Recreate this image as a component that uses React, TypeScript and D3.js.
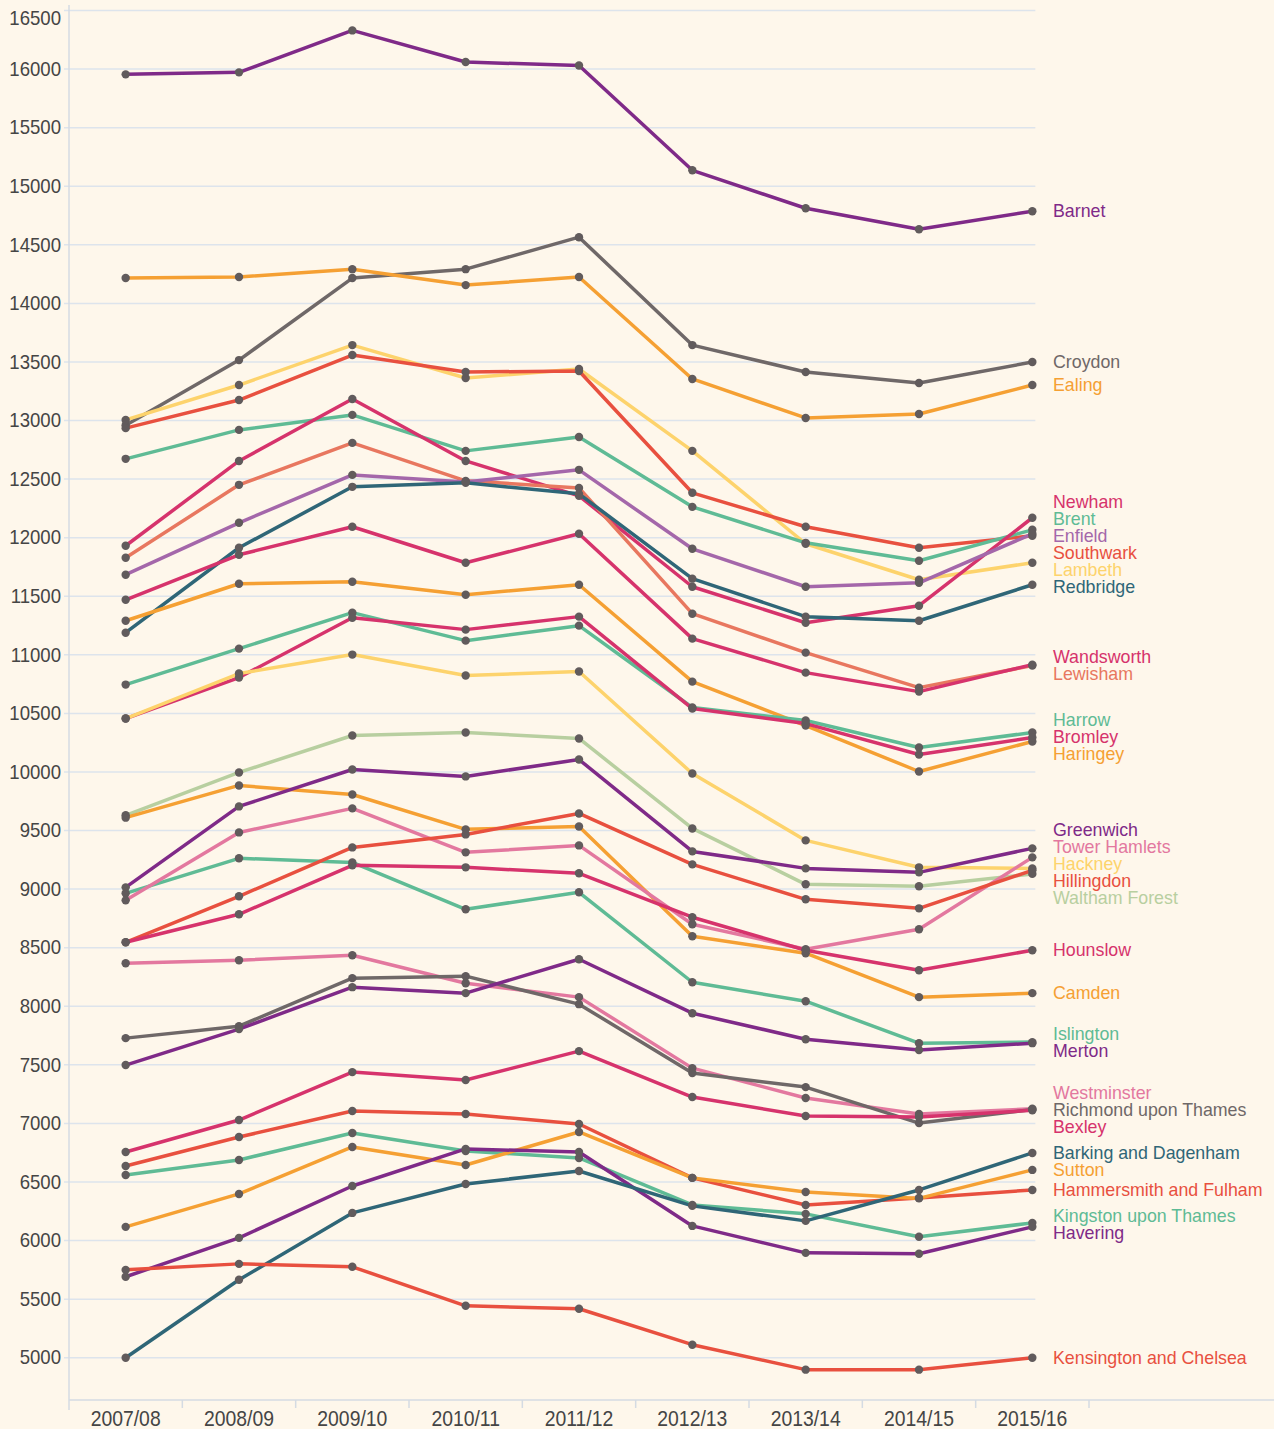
import React from "react";
import * as d3 from "d3";

const years = ["2007/08", "2008/09", "2009/10", "2010/11", "2011/12", "2012/13", "2013/14", "2014/15", "2015/16"];

const yTickValues = [5000, 5500, 6000, 6500, 7000, 7500, 8000, 8500, 9000, 9500, 10000, 10500, 11000, 11500, 12000, 12500, 13000, 13500, 14000, 14500, 15000, 15500, 16000, 16500];

const PURPLE = "#7f2a88";
const GREY = "#6f6868";
const ORANGE = "#f5a033";
const YELLOW = "#fdd36c";
const RED = "#e8503f";
const GREEN = "#5fbb95";
const CRIMSON = "#d6336c";
const SALMON = "#e8775f";
const LILAC = "#a467aa";
const TEAL = "#2f6677";
const SAGE = "#b8cfa0";
const PINK = "#e3789f";

const barnet = [15955, 15972, 16330, 16060, 16030, 15136, 14812, 14633, 14787];
const croydon = [12960, 13516, 14216, 14292, 14565, 13644, 13414, 13320, 13499];
const ealing = [14216, 14225, 14292, 14156, 14225, 13355, 13022, 13056, 13303];
const lambeth = [13005, 13303, 13644, 13363, 13440, 12741, 11948, 11641, 11786];
const southwark = [12935, 13175, 13559, 13414, 13423, 12383, 12093, 11914, 12016];
const brent = [12673, 12920, 13048, 12741, 12860, 12263, 11956, 11803, 12067];
const newham = [11931, 12655, 13184, 12655, 12357, 11581, 11274, 11419, 12170];
const lewisham = [11829, 12451, 12809, 12485, 12425, 11351, 11019, 10720, 10908];
const enfield = [11684, 12127, 12536, 12476, 12579, 11905, 11581, 11615, 12033];
const redbridge = [11189, 11914, 12434, 12468, 12374, 11650, 11326, 11291, 11598];
const wandsworth = [11470, 11854, 12093, 11786, 12033, 11138, 10848, 10686, 10916];
const haringey = [11291, 11607, 11624, 11513, 11598, 10771, 10396, 10004, 10260];
const harrow = [10746, 11053, 11360, 11121, 11249, 10550, 10439, 10209, 10337];
const bromley = [10456, 10806, 11317, 11215, 11326, 10541, 10413, 10149, 10294];
const hackney = [10456, 10840, 11002, 10823, 10857, 9987, 9416, 9186, 9177];
const walthamForest = [9630, 9996, 10311, 10337, 10286, 9518, 9041, 9024, 9130];
const camden = [9610, 9885, 9808, 9510, 9535, 8598, 8453, 8078, 8112];
const greenwich = [9015, 9706, 10021, 9962, 10106, 9322, 9177, 9143, 9348];
const islington = [8964, 9263, 9228, 8828, 8973, 8205, 8043, 7685, 7694];
const towerHamlets = [8904, 9484, 9689, 9314, 9373, 8700, 8487, 8657, 9271];
const hillingdon = [8546, 8939, 9356, 9467, 9646, 9211, 8913, 8836, 9160];
const hounslow = [8546, 8785, 9203, 9186, 9135, 8760, 8478, 8308, 8478];
const westminster = [8367, 8393, 8436, 8197, 8078, 7472, 7217, 7080, 7125];
const richmond = [7728, 7830, 8240, 8257, 8018, 7430, 7310, 7003, 7118];
const merton = [7498, 7805, 8163, 8112, 8401, 7941, 7719, 7626, 7685];
const bexley = [6756, 7029, 7438, 7370, 7617, 7225, 7063, 7055, 7112];
const hammersmith = [6637, 6884, 7106, 7080, 6995, 6535, 6304, 6364, 6432];
const kingston = [6560, 6688, 6918, 6765, 6705, 6304, 6228, 6032, 6151];
const sutton = [6117, 6398, 6799, 6645, 6927, 6535, 6415, 6360, 6603];
const havering = [5691, 6023, 6466, 6782, 6756, 6125, 5895, 5887, 6117];
const barking = [5000, 5665, 6236, 6483, 6594, 6296, 6168, 6432, 6748];
const kensington = [5750, 5801, 5776, 5443, 5418, 5111, 4898, 4898, 5000];

const names = [
  "Barnet", "Croydon", "Ealing", "Lambeth", "Southwark", "Brent", "Newham", "Lewisham",
  "Enfield", "Redbridge", "Wandsworth", "Haringey", "Harrow", "Bromley", "Hackney",
  "Waltham Forest", "Camden", "Greenwich", "Islington", "Tower Hamlets", "Hillingdon",
  "Hounslow", "Westminster", "Richmond upon Thames", "Merton", "Bexley",
  "Hammersmith and Fulham", "Kingston upon Thames", "Sutton", "Havering",
  "Barking and Dagenham", "Kensington and Chelsea",
];
const colors = [
  PURPLE, GREY, ORANGE, YELLOW, RED, GREEN, CRIMSON, SALMON,
  LILAC, TEAL, CRIMSON, ORANGE, GREEN, CRIMSON, YELLOW,
  SAGE, ORANGE, PURPLE, GREEN, PINK, RED,
  CRIMSON, PINK, GREY, PURPLE, CRIMSON,
  RED, GREEN, ORANGE, PURPLE,
  TEAL, RED,
];
const seriesValues = [
  barnet, croydon, ealing, lambeth, southwark, brent, newham, lewisham,
  enfield, redbridge, wandsworth, haringey, harrow, bromley, hackney,
  walthamForest, camden, greenwich, islington, towerHamlets, hillingdon,
  hounslow, westminster, richmond, merton, bexley,
  hammersmith, kingston, sutton, havering,
  barking, kensington,
];

const BG = "#fef7eb";
const AXIS = "#d4dbe3";
const GRID = "#dde4ec";
const DOT = "#615b5c";
const TICK_TEXT = "#454545";

function dodge(targets: number[], gap: number): number[] {
  const order = targets.map((t, i) => i).sort((a, b) => targets[a] - targets[b]);
  type C = { idx: number[]; center: number };
  let clusters: C[] = order.map((i) => ({ idx: [i], center: targets[i] }));
  const top = (c: C) => c.center - ((c.idx.length - 1) * gap) / 2;
  const bottom = (c: C) => c.center + ((c.idx.length - 1) * gap) / 2;
  let changed = true;
  while (changed) {
    changed = false;
    for (let k = 0; k < clusters.length - 1; k++) {
      const a = clusters[k];
      const b = clusters[k + 1];
      if (bottom(a) + gap > top(b)) {
        const idx = a.idx.concat(b.idx);
        const center = d3.mean(idx, (i) => targets[i]) as number;
        clusters.splice(k, 2, { idx, center });
        changed = true;
        break;
      }
    }
  }
  const out = new Array(targets.length).fill(0);
  clusters.forEach((c) => {
    const t = top(c);
    c.idx.forEach((i, k) => (out[i] = t + k * gap));
  });
  return out;
}

export default function App() {
  const W = 1274;
  const H = 1429;
  const left = 69;
  const bottomY = 1400;
  const x = d3.scaleBand<string>().domain(years).range([left, 1089]).padding(0);
  const y = d3.scaleLinear().domain([4639, 16547]).range([bottomY, 5]);
  const cx = (i: number) => (x(years[i]) as number) + x.bandwidth() / 2;
  const gridRight = cx(years.length - 1) + 3;
  const line = d3
    .line<number>()
    .x((_, i) => cx(i))
    .y((d) => y(d));

  const lastYs = seriesValues.map((s) => y(s[s.length - 1]));
  const labelYs = dodge(lastYs, 17);

  const tickFont = "'Liberation Sans', Arial, sans-serif";

  return (
    <div style={{ position: "absolute", left: 0, top: 0, width: W, height: H, background: BG }}>
      <svg width={W} height={H} style={{ display: "block" }}>
        <rect x={0} y={0} width={W} height={H} fill={BG} />
        {yTickValues.map((v) => (
          <g key={v}>
            <line x1={left - 5} x2={gridRight} y1={y(v)} y2={y(v)} stroke={GRID} strokeWidth={1.5} />
            <text
              transform={`translate(61,${Math.max(18, y(v))}) scale(0.93,1)`}
              textAnchor="end"
              dominantBaseline="central"
              fontFamily={tickFont}
              fontSize={20}
              fill={TICK_TEXT}
            >
              {v}
            </text>
          </g>
        ))}
        <line x1={left} x2={left} y1={5} y2={bottomY + 10} stroke={AXIS} strokeWidth={1.5} />
        <line x1={left} x2={W} y1={bottomY} y2={bottomY} stroke={AXIS} strokeWidth={1.5} />
        {years.map((yr, i) => (
          <g key={yr}>
            <line
              x1={(x(yr) as number) + x.bandwidth()}
              x2={(x(yr) as number) + x.bandwidth()}
              y1={bottomY}
              y2={bottomY + 8}
              stroke={AXIS}
              strokeWidth={1.5}
            />
            <text
              transform={`translate(${cx(i)},1426) scale(0.88,1)`}
              textAnchor="middle"
              fontFamily={tickFont}
              fontSize={22}
              fill={TICK_TEXT}
            >
              {yr}
            </text>
          </g>
        ))}
        {seriesValues.map((s, k) => (
          <path
            key={names[k]}
            d={line(s) as string}
            fill="none"
            stroke={colors[k]}
            strokeWidth={3.5}
            strokeLinejoin="round"
            strokeLinecap="round"
          />
        ))}
        {seriesValues.map((s, k) =>
          s.map((v, i) => <circle key={names[k] + i} cx={cx(i)} cy={y(v)} r={4.2} fill={DOT} />)
        )}
        {names.map((n, k) => (
          <text
            key={n}
            x={1053}
            y={labelYs[k]}
            dominantBaseline="central"
            fontFamily="'Liberation Sans', Arial, sans-serif"
            fontSize={17.8}
            fill={colors[k]}
          >
            {n}
          </text>
        ))}
      </svg>
    </div>
  );
}
